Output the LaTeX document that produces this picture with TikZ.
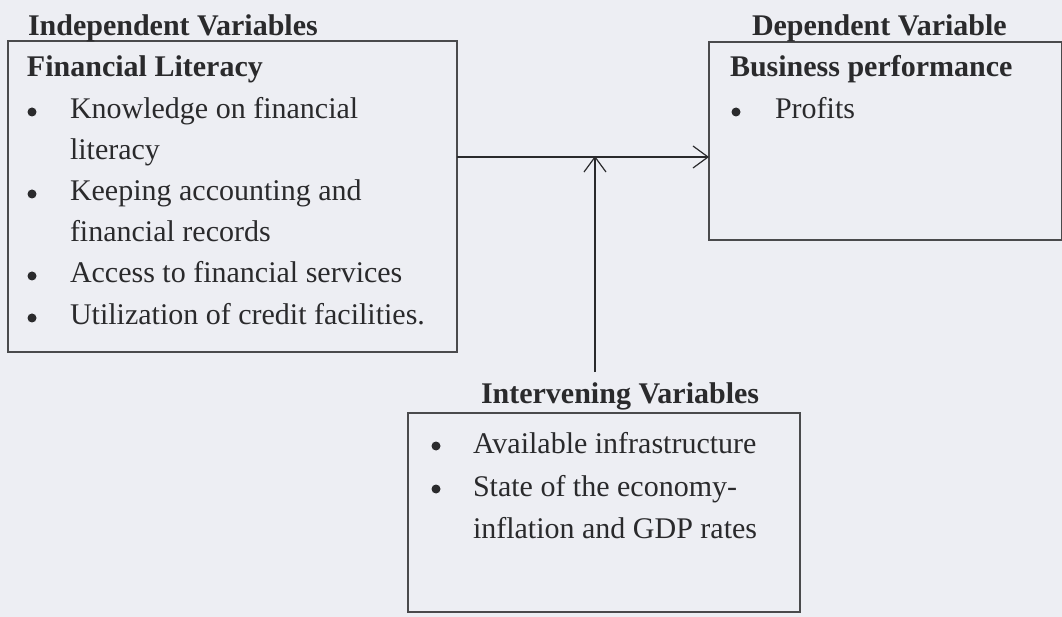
\documentclass[tikz,border=0pt]{standalone}
\usepackage{fontspec}
\setmainfont{Liberation Serif}
\usetikzlibrary{arrows.meta}
\definecolor{paper}{HTML}{EDEEF3}
\definecolor{ink}{HTML}{2A2A2C}
\begin{document}
\begin{tikzpicture}[x=1pt,y=-1pt,
  every node/.style={inner sep=0pt,outer sep=0pt,text=ink},
  txt/.style={anchor=base west,font=\fontsize{30}{41}\selectfont},
  head/.style={anchor=base west,font=\fontsize{30}{41}\selectfont\bfseries},
  dot/.style={circle,fill=ink,minimum size=9pt},
  frame/.style={draw=ink!85,line width=1.1pt,anchor=north west,rectangle},
  arr/.style={draw=ink,line width=1.2pt,-{Straight Barb[length=15pt,width=22pt,line width=1.2pt]}}]
  % page
  \fill[paper] (0,0) rectangle (1062,617);
  \useasboundingbox (0,0) rectangle (1062,617);

  % frames
  \node[frame,minimum width=449pt,minimum height=311pt] (iv) at (8,41) {};
  \node[frame,minimum width=353pt,minimum height=198pt] (dv) at (709,42) {};
  \node[frame,minimum width=392pt,minimum height=199pt] (mv) at (408,413) {};

  % independent variables
  \node[head] (ivt) at (28,36) {Independent Variables};
  \node[head] (ivh) at (27,77) {Financial Literacy};
  \node[dot] (b1) at (32,112) {};
  \node[txt] (i1) at (70,119) {Knowledge on financial};
  \node[txt] (i1b) at (70,160) {literacy};
  \node[dot] (b2) at (32,194) {};
  \node[txt] (i2) at (70,201) {Keeping accounting and};
  \node[txt] (i2b) at (70,242) {financial records};
  \node[dot] (b3) at (32,276) {};
  \node[txt] (i3) at (70,283) {Access to financial services};
  \node[dot] (b4) at (32,318) {};
  \node[txt] (i4) at (70,325) {Utilization of credit facilities.};

  % dependent variable
  \node[head] (dvt) at (752,36) {Dependent Variable};
  \node[head] (dvh) at (730,77) {Business performance};
  \node[dot] (b5) at (736,112) {};
  \node[txt] (d1) at (775,119) {Profits};

  % intervening variables
  \node[head] (mvt) at (481,403) {Intervening Variables};
  \node[dot] (b6) at (436,446) {};
  \node[txt] (m1) at (473,453) {Available infrastructure};
  \node[dot] (b7) at (436,489) {};
  \node[txt] (m2) at (473,496) {State of the economy-};
  \node[txt] (m2b) at (473,538) {inflation and GDP rates};

  % connectors
  \coordinate (join) at (595,157);
  \coordinate (foot) at (595,372);
  \draw[arr] (iv.east |- join) -- (dv.west |- join);
  \draw[arr] (foot) -- ([yshift=1pt]join);
\end{tikzpicture}
\end{document}
